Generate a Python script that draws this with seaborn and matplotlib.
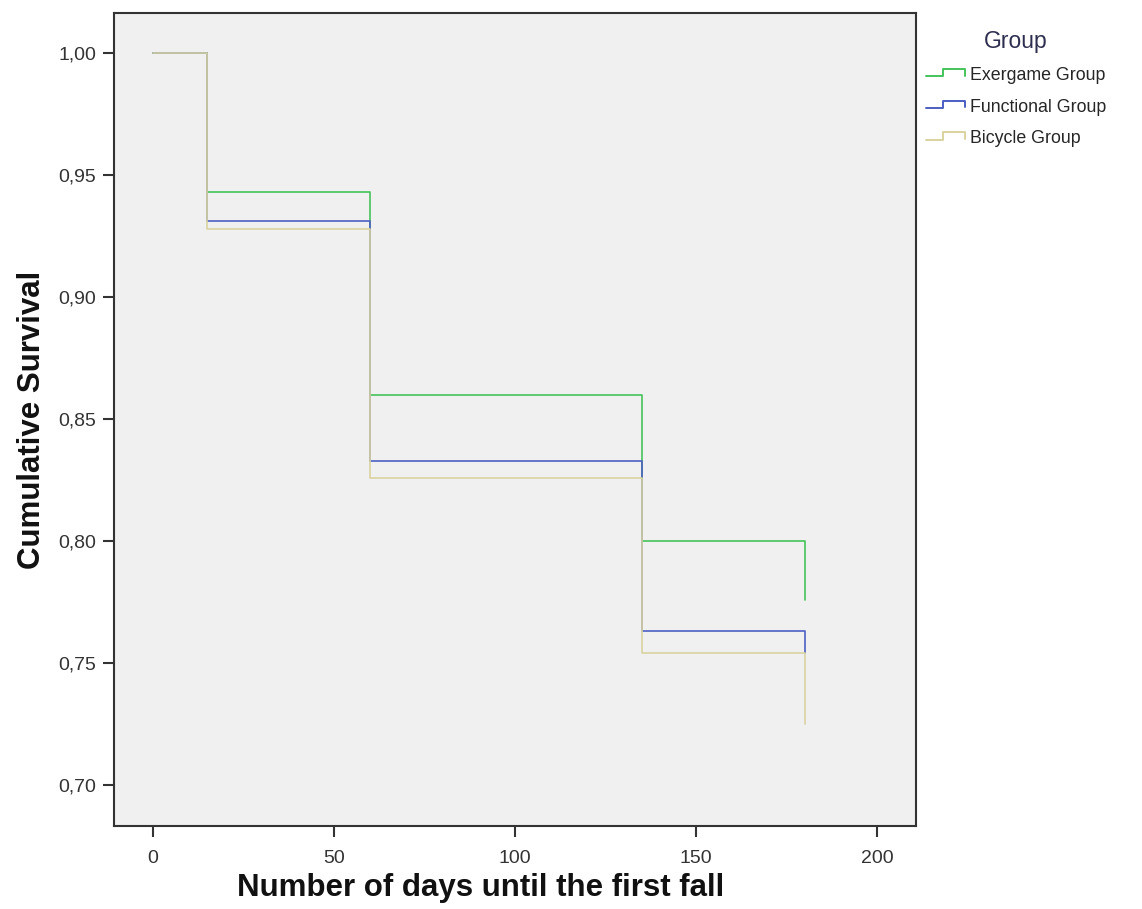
import numpy as np
import pandas as pd
import seaborn as sns
import matplotlib.pyplot as plt
from matplotlib.legend_handler import HandlerBase
from matplotlib.lines import Line2D
from matplotlib.ticker import FuncFormatter

# Data
groups = ["Exergame Group", "Functional Group", "Bicycle Group"]
days = [0, 15, 60, 135, 180]
exergame = [1.000, 0.943, 0.860, 0.800, 0.776]
functional = [1.000, 0.931, 0.833, 0.763, 0.754]
bicycle = [1.000, 0.928, 0.826, 0.754, 0.725]
x_ticks = [0, 50, 100, 150, 200]
y_ticks = [0.70, 0.75, 0.80, 0.85, 0.90, 0.95, 1.00]

colors = {"Exergame Group": "#45C35A", "Functional Group": "#4C5FC2", "Bicycle Group": "#D8D3A0"}

df = pd.DataFrame({
    "days": days * 3,
    "survival": exergame + functional + bicycle,
    "Group": np.repeat(groups, len(days)),
})

sns.set_style("white")
plt.rcParams["font.family"] = ["Liberation Sans", "DejaVu Sans"]

fig = plt.figure(figsize=(11.42, 9.09), dpi=100)
ax = fig.add_axes([0.1, 0.091, 0.702, 0.895])
ax.set_facecolor("#F0F0F0")

sns.lineplot(data=df, x="days", y="survival", hue="Group", hue_order=groups,
             palette=colors, estimator=None, drawstyle="steps-post",
             linewidth=1.2, ax=ax, legend=False)

ax.set_xlim(-10.7, 210.7)
ax.set_ylim(0.6832, 1.0164)
ax.set_xticks(x_ticks)
ax.set_yticks(y_ticks)
ax.yaxis.set_major_formatter(FuncFormatter(lambda v, p: f"{v:.2f}".replace(".", ",")))
ax.tick_params(axis="both", direction="out", length=8, width=1.5, color="#333333",
               labelsize=14, labelcolor="#333333", left=True, bottom=True, pad=5)
ax.tick_params(axis="x", pad=9)
for s in ax.spines.values():
    s.set_color("#333333")
    s.set_linewidth(1.5)

ax.set_xlabel("Number of days until the first fall", fontsize=22.5, fontweight="bold",
              color="#111111")
ax.xaxis.set_label_coords(0.457, -0.058)
ax.set_ylabel("Cumulative Survival", fontsize=22.5, fontweight="bold", labelpad=8,
              color="#111111")


class StepHandler(HandlerBase):
    def create_artists(self, legend, orig_handle, xd, yd, width, height, fontsize, trans):
        xs = np.array([0, 0.42, 0.42, 1.0, 1.0]) * width - xd
        ys = np.array([0.3, 0.3, 0.9, 0.9, 0.35]) * height - yd
        ln = Line2D(xs, ys, color=orig_handle.get_color(), linewidth=1.4, transform=trans)
        return [ln]


handles = [Line2D([], [], color=colors[g]) for g in groups]
leg = fig.legend(handles, groups, title="Group", loc="upper left",
                 bbox_to_anchor=(0.797, 0.985), frameon=False, fontsize=12.8,
                 title_fontsize=16.5, handler_map={Line2D: StepHandler()},
                 handlelength=2.2, handletextpad=0.25, labelspacing=0.82)
leg.get_title().set_color("#2E2E50")

fig.savefig("out.png", dpi=100)
